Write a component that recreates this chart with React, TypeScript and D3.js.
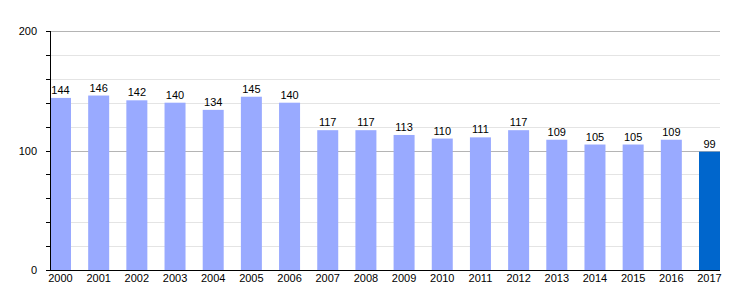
import React from "react";
import * as d3 from "d3";

const years = ["2000","2001","2002","2003","2004","2005","2006","2007","2008","2009","2010","2011","2012","2013","2014","2015","2016","2017"];
const values = [144,146,142,140,134,145,140,117,117,113,110,111,117,109,105,105,109,99];
const yTicks = [0, 100, 200];
const minorTicks = [20, 40, 60, 80, 120, 140, 160, 180];

export default function App() {
  const W = 750, H = 300;
  const left = 50, right = 720, top = 31, bottom = 270;
  const x = d3.scaleBand<string>().domain(years).range([left, right]).paddingInner(0.45).paddingOuter(0).align(0);
  const y = d3.scaleLinear().domain([0, 200]).range([bottom, top]);
  const font = "Liberation Sans, Arial, sans-serif";
  return (
    <svg width={W} height={H} style={{ position: "absolute", left: 0, top: 0 }} fontFamily={font}>
      {minorTicks.map(t => (
        <g key={"m" + t}>
          <line x1={left} x2={right} y1={Math.round(y(t)) + 0.5} y2={Math.round(y(t)) + 0.5} stroke="#e4e4e4" />
          <line x1={left - 4} x2={left} y1={Math.round(y(t)) + 0.5} y2={Math.round(y(t)) + 0.5} stroke="#000" />
        </g>
      ))}
      {yTicks.filter(t => t > 0).map(t => (
        <line key={"g" + t} x1={left} x2={right} y1={Math.round(y(t)) + 0.5} y2={Math.round(y(t)) + 0.5} stroke="#b4b4b4" />
      ))}
      {years.map((yr, i) => (
        <g key={yr}>
          <rect x={x(yr)} y={y(values[i])} width={x.bandwidth()} height={bottom - y(values[i])}
            fill={i === years.length - 1 ? "#0066cc" : "#99aaff"} />
          <text x={(x(yr) as number) + x.bandwidth() / 2} y={y(values[i]) - 4} textAnchor="middle" fontSize={11} fill="#000">{values[i]}</text>
          <text x={(x(yr) as number) + x.bandwidth() / 2} y={bottom + 12} textAnchor="middle" fontSize={11} fill="#000">{yr}</text>
        </g>
      ))}
      <line x1={left + 0.5} x2={left + 0.5} y1={top} y2={bottom} stroke="#000" />
      <line x1={left} x2={right} y1={bottom + 0.5} y2={bottom + 0.5} stroke="#000" />
      {yTicks.map(t => (
        <g key={"t" + t}>
          <line x1={left - 4} x2={left} y1={Math.round(y(t)) + 0.5} y2={Math.round(y(t)) + 0.5} stroke="#000" />
          <text x={37} y={y(t) + 4} textAnchor="end" fontSize={11} fill="#000">{t}</text>
        </g>
      ))}
    </svg>
  );
}
